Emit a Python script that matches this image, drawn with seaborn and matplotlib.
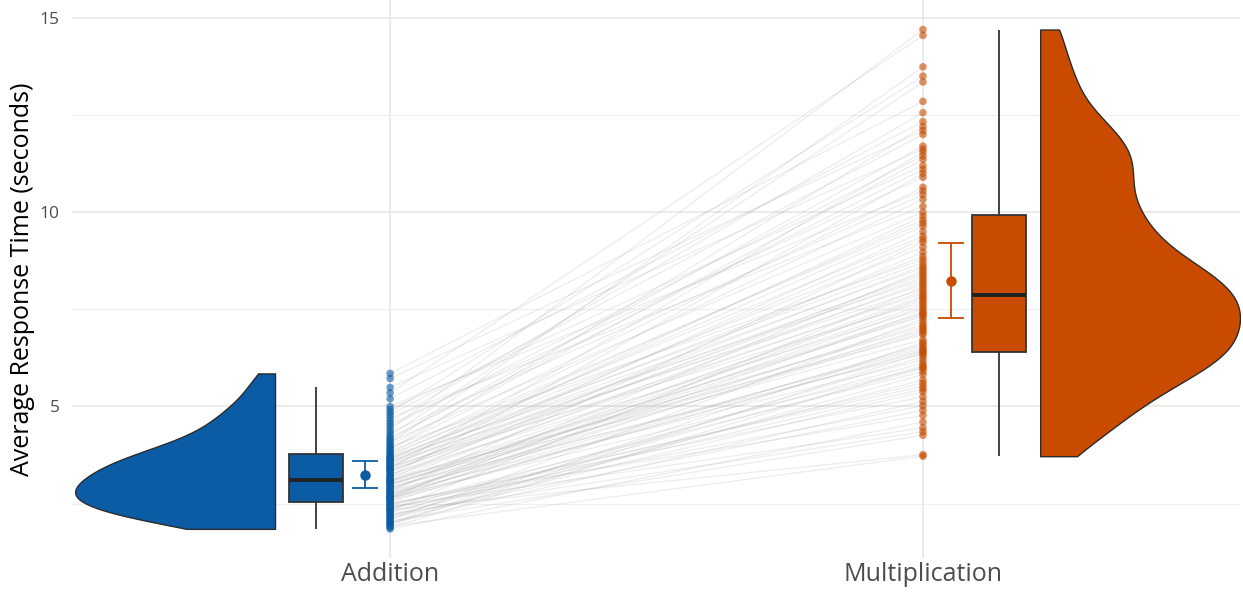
import numpy as np
import pandas as pd
import matplotlib
matplotlib.use("Agg")
import matplotlib.pyplot as plt
import seaborn as sns

# ---------------- data ----------------
conditions = ["Addition", "Multiplication"]

# average response time per participant (seconds); same participant order in both lists
addition_rt = [
    1.85, 1.88, 1.92, 1.95, 1.98, 2.0, 2.02, 2.05, 2.08, 2.12,
    2.15, 2.18, 2.2, 2.23, 2.26, 2.3, 2.32, 2.34, 2.35, 2.38,
    2.4, 2.42, 2.45, 2.47, 2.5, 2.52, 2.55, 2.57, 2.6, 2.62,
    2.64, 2.65, 2.66, 2.68, 2.7, 2.72, 2.74, 2.76, 2.78, 2.8,
    2.83, 2.86, 2.88, 2.9, 2.93, 2.96, 2.99, 3.0, 3.02, 3.05,
    3.07, 3.09, 3.1, 3.12, 3.15, 3.18, 3.2, 3.23, 3.26, 3.3,
    3.33, 3.36, 3.38, 3.4, 3.43, 3.45, 3.46, 3.5, 3.53, 3.56,
    3.58, 3.6, 3.63, 3.66, 3.68, 3.7, 3.73, 3.77, 3.8, 3.84,
    3.88, 3.92, 3.96, 4.0, 4.05, 4.1, 4.15, 4.2, 4.26, 4.33,
    4.4, 4.48, 4.55, 4.62, 4.7, 4.78, 4.85, 4.92, 5.0, 5.2,
    5.35, 5.49, 5.72, 5.85,
]
multiplication_rt = [
    4.6, 6.05, 3.72, 6.38, 6.65, 5.13, 5.82, 4.26, 7.25, 5.38,
    6.28, 4.9, 5.68, 4.35, 5.98, 5.45, 8.08, 3.76, 6.12, 5.02,
    5.6, 4.45, 5.9, 5.52, 5.25, 4.77,
    6.6, 6.45, 7.44, 6.42, 8.5, 7.0, 6.0, 7.8, 6.55, 7.18,
    7.56, 6.2, 6.9, 9.23, 6.49, 7.36, 7.84, 6.95, 6.35, 7.62,
    7.1, 7.4, 6.72, 7.74, 7.05, 7.32,
    8.2, 6.85, 8.97, 7.96, 11.0, 8.44, 7.5, 9.5, 8.32, 7.9,
    8.62, 11.55, 8.14, 7.68, 9.3, 8.38, 9.9, 8.02, 8.86, 8.56,
    9.64, 8.26, 9.1, 8.7, 9.8, 9.38,
    10.33, 9.72, 12.2, 10.64, 8.78, 11.36, 13.74, 10.0, 11.7, 11.1,
    13.35, 10.45, 14.7, 11.45, 10.9, 12.56, 10.15, 12.0, 13.5, 11.2,
    10.55, 12.33, 14.55, 11.62, 12.1, 12.85,
]

# mean and interval shown by the small error bars
mean_rt = [3.23, 8.23]
ci_low = [2.90, 7.28]
ci_high = [3.59, 9.20]

colors = ["#0B5CA4", "#C84B00"]

# ---------------- layout (positions on the x axis) ----------------
point_pos = {"Addition": 1.0, "Multiplication": 2.0}
violin_pos = {"Addition": 0.5965, "Multiplication": 2.4075}
box_pos = {"Addition": 0.861, "Multiplication": 2.143}
err_pos = [0.953, 2.053]
bw_adjust = {"Addition": 1.05, "Multiplication": 0.64}

sns.set_theme(style="whitegrid")
plt.rcParams["font.family"] = ["Open Sans", "DejaVu Sans"]

n = len(addition_rt)
pid = np.arange(n)
long = pd.DataFrame({
    "pid": np.concatenate([pid, pid]),
    "cond": [conditions[0]] * n + [conditions[1]] * n,
    "rt": addition_rt + multiplication_rt,
})
long["x"] = long["cond"].map(point_pos)
long["x_violin"] = long["cond"].map(violin_pos)
long["x_box"] = long["cond"].map(box_pos)

fig = plt.figure(figsize=(12.43, 5.96), dpi=100)
ax = fig.add_axes([72 / 1243, 38 / 596, 1168 / 1243, 558 / 596])
ax.set_facecolor("white")
ax.set_axisbelow(True)

# paired lines
sns.lineplot(data=long, x="x", y="rt", units="pid", estimator=None,
             color="#9a9a9a", alpha=0.18, linewidth=0.9, ax=ax, zorder=0.8)

# half violins (one call per condition so each gets its own smoothing)
for cond in conditions:
    sub = long[long["cond"] == cond]
    sns.violinplot(data=sub, x="x_violin", y="rt", hue="cond", hue_order=conditions,
                   palette=colors, split=True, native_scale=True, orient="x",
                   inner=None, cut=0, density_norm="width",
                   width=0.375, dodge=False,
                   linecolor="#2b2b2b", linewidth=1.0, bw_adjust=bw_adjust[cond],
                   saturation=1, legend=False, ax=ax)

# boxplots
sns.boxplot(data=long, x="x_box", y="rt", hue="cond", hue_order=conditions,
            palette=colors, native_scale=True, orient="x", width=0.079,
            dodge=False, showfliers=False, showcaps=False,
            linecolor="#333333", linewidth=1.3,
            medianprops={"linewidth": 2.8, "color": "#222222"},
            saturation=1, legend=False, ax=ax)

# raw points
sns.scatterplot(data=long, x="x", y="rt", hue="cond", hue_order=conditions,
                palette=colors, alpha=0.6, s=30, linewidth=0, legend=False,
                ax=ax, zorder=3)

# mean +/- interval
for i in range(len(conditions)):
    ax.errorbar(err_pos[i], mean_rt[i],
                yerr=[[mean_rt[i] - ci_low[i]], [ci_high[i] - mean_rt[i]]],
                fmt="o", color=colors[i], ms=6.5, capsize=9.5,
                elinewidth=1.3, capthick=1.3, zorder=4)

# axes styling
ax.set_xlim(0.403, 2.595)
ax.set_ylim(1.10, 15.46)
ax.set_xticks([1, 2])
ax.set_xticklabels(conditions)
ax.set_yticks([5, 10, 15])
ax.set_yticks([2.5, 7.5, 12.5], minor=True)
ax.grid(True, which="major", color="#E6E6E6", linewidth=1.1)
ax.grid(True, which="minor", axis="y", color="#EFEFEF", linewidth=0.8)
ax.grid(False, which="minor", axis="x")
for s in ax.spines.values():
    s.set_visible(False)
ax.tick_params(axis="x", labelsize=18, colors="#4D4D4D", length=0, pad=3)
ax.tick_params(axis="y", labelsize=12.5, colors="#4D4D4D", length=0, pad=9)
ax.tick_params(which="minor", length=0)
ax.set_xlabel("")
ax.set_ylabel("Average Response Time (seconds)", fontsize=18, color="black", labelpad=3)

fig.savefig("out.png", dpi=100, facecolor="white")
